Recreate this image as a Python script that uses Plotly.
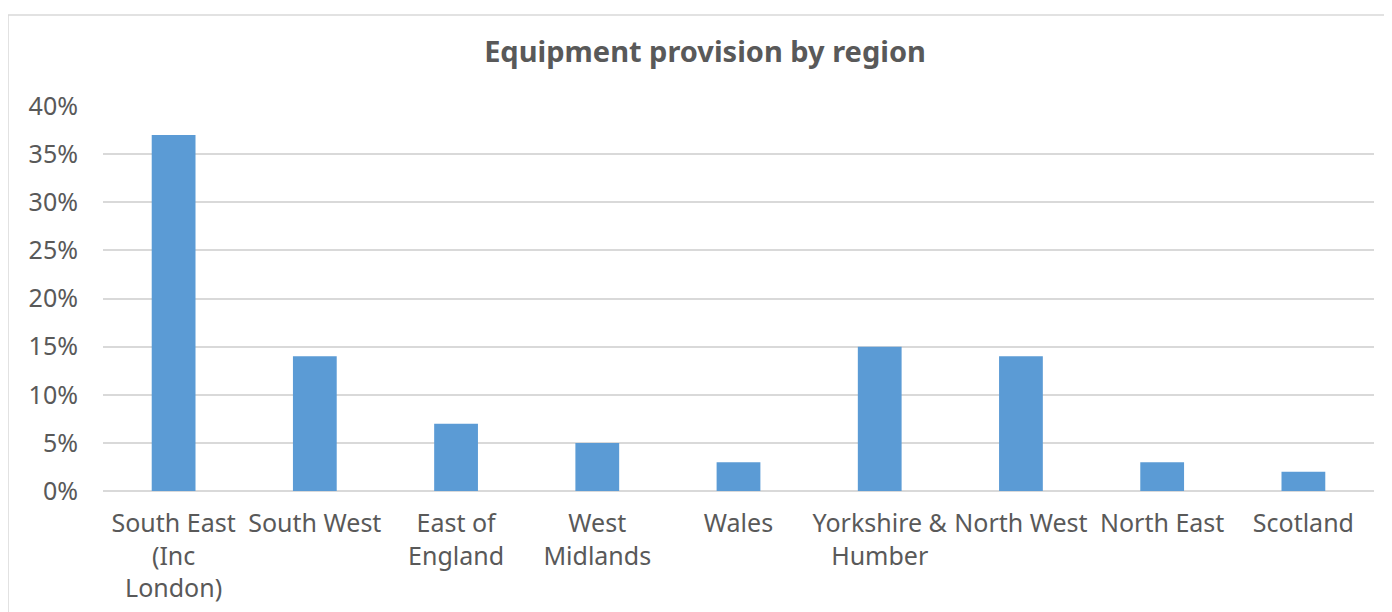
import plotly.graph_objects as go

categories = ["South East<br>(Inc<br>London)", "South West", "East of<br>England", "West<br>Midlands",
              "Wales", "Yorkshire &<br>Humber", "North West", "North East", "Scotland"]
values = [0.37, 0.14, 0.07, 0.05, 0.03, 0.15, 0.14, 0.03, 0.02]
y_ticks = [0, 0.05, 0.10, 0.15, 0.20, 0.25, 0.30, 0.35, 0.40]
y_tick_labels = ["0%", "5%", "10%", "15%", "20%", "25%", "30%", "35%", "40%"]

font_family = "Noto Sans, Open Sans, sans-serif"
text_color = "#595959"
grid_color = "#D9D9D9"

fig = go.Figure(go.Bar(x=categories, y=values, marker_color="#5B9BD5", marker_line_width=0))

W, H = 1392, 612
L, R, T, B = 95, 26, 98, 129
pw, ph = W - L - R, H - T - B

fig.update_layout(
    width=W, height=H,
    margin=dict(l=L, r=R, t=T, b=B),
    paper_bgcolor="white", plot_bgcolor="white",
    bargap=0.69,
    showlegend=False,
    font=dict(family=font_family, color=text_color, size=25),
    title=dict(text="<b>Equipment provision by region</b>", x=697 / W, xanchor="center",
               y=1 - 44 / H, yanchor="middle", font=dict(size=29, color=text_color, family=font_family)),
    xaxis=dict(showgrid=False, showline=False, tickfont=dict(size=25, color=text_color),
               ticks="outside", ticklen=10, tickcolor="rgba(0,0,0,0)"),
    yaxis=dict(range=[0, 0.40], tickvals=y_ticks, ticktext=y_tick_labels,
               showgrid=True, gridcolor=grid_color, gridwidth=1.5, zeroline=True,
               zerolinecolor=grid_color, zerolinewidth=2, showline=False,
               tickfont=dict(size=25, color=text_color), ticklabelstandoff=24),
    shapes=[dict(type="rect", xref="paper", yref="paper",
                 x0=(0 - L) / pw, x1=1 + 60 / pw, y0=-0.5, y1=(H - B - 7) / ph,
                 line=dict(color="#D9D9D9", width=1.5), fillcolor="rgba(0,0,0,0)", layer="below")],
)

fig.write_html("out.html")
